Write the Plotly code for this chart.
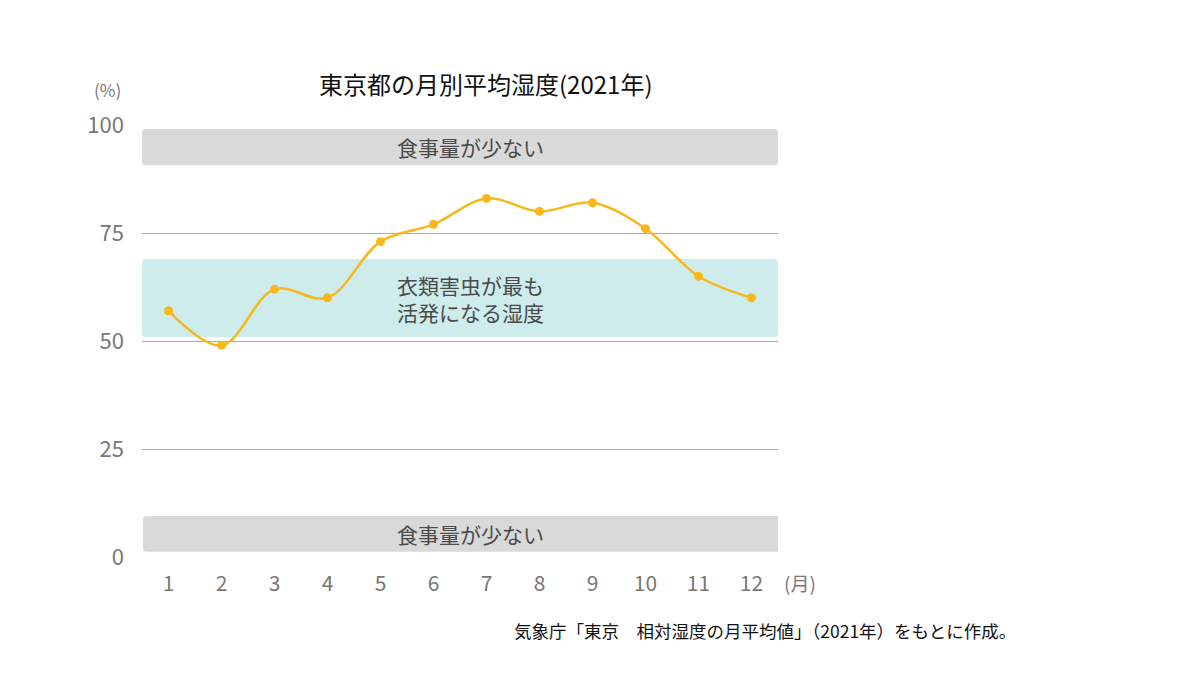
import plotly.graph_objects as go

months = list(range(1, 13))
humidity = [57, 49, 62, 60, 73, 77, 83, 80, 82, 76, 65, 60]
y_ticks = [0, 25, 50, 75, 100]
title_text = "東京都の月別平均湿度(2021年)"
band_gray_label = "食事量が少ない"
band_teal_label = "衣類害虫が最も<br>活発になる湿度"
source_text = "気象庁「東京　相対湿度の月平均値」（2021年）をもとに作成。"

FONT = "Noto Sans CJK JP"

fig = go.Figure()
fig.add_trace(go.Scatter(
    x=months, y=humidity, mode="lines+markers",
    line=dict(color="#f8b81c", width=2.5, shape="spline", smoothing=1.0),
    marker=dict(color="#f8b81c", size=9),
    showlegend=False, hoverinfo="x+y",
))

def rounded_rect(x0, x1, y0, y1, rx=0.075, ry=0.9):
    return (f"M {x0+rx},{y0} L {x1-rx},{y0} Q {x1},{y0} {x1},{y0+ry} "
            f"L {x1},{y1-ry} Q {x1},{y1} {x1-rx},{y1} L {x0+rx},{y1} "
            f"Q {x0},{y1} {x0},{y1-ry} L {x0},{y0+ry} Q {x0},{y0} {x0+rx},{y0} Z")

bands = [
    (0.5, 12.5, 90.7, 99.1, "#d9d9d9", band_gray_label),
    (0.5, 12.5, 50.9, 69.0, "#cdeceb", band_teal_label),
    (0.52, 12.52, 1.2, 9.5, "#d9d9d9", band_gray_label),
]
for x0, x1, y0, y1, col, lab in bands:
    fig.add_shape(type="path", path=rounded_rect(x0, x1, y0, y1),
                  fillcolor=col, line=dict(width=0), layer="below")
    fig.add_annotation(x=6.69, y=(y0 + y1) / 2, text=lab, showarrow=False,
                       xanchor="center", yanchor="middle",
                       font=dict(family=FONT, size=21, color="#4a4a4a"),
                       align="center")

def paper_note(px, py, text, size, color, weight=400):
    fig.add_annotation(xref="paper", yref="paper",
                       x=(px - 142) / 636, y=(557 - py) / 432,
                       xanchor="center", yanchor="middle",
                       text=text, showarrow=False,
                       font=dict(family=FONT, size=size, color=color, weight=weight))

paper_note(486, 84, title_text, 24, "#111111")
paper_note(107, 89, "(%)", 17, "#777777")
paper_note(800, 582, "(月)", 19, "#777777")
paper_note(765, 630, source_text, 17.5, "#111111")

fig.update_layout(
    width=1200, height=700,
    margin=dict(l=142, r=422, t=125, b=143),
    paper_bgcolor="white", plot_bgcolor="white",
    font=dict(family=FONT),
)
fig.update_xaxes(
    range=[0.5, 12.5], tickvals=months, ticktext=[str(m) for m in months],
    showgrid=False, zeroline=False, showline=False,
    tickfont=dict(family=FONT, size=21, color="#777777"),
    ticks="", ticklabelstandoff=12,
)
fig.update_yaxes(
    range=[0, 100], tickvals=y_ticks, ticktext=[str(v) for v in y_ticks],
    showgrid=True, gridcolor="#aaaaaa", gridwidth=1, zeroline=False, showline=False,
    tickfont=dict(family=FONT, size=22, color="#777777"),
    ticks="", ticklabelstandoff=17,
)

fig.write_html("out.html")
